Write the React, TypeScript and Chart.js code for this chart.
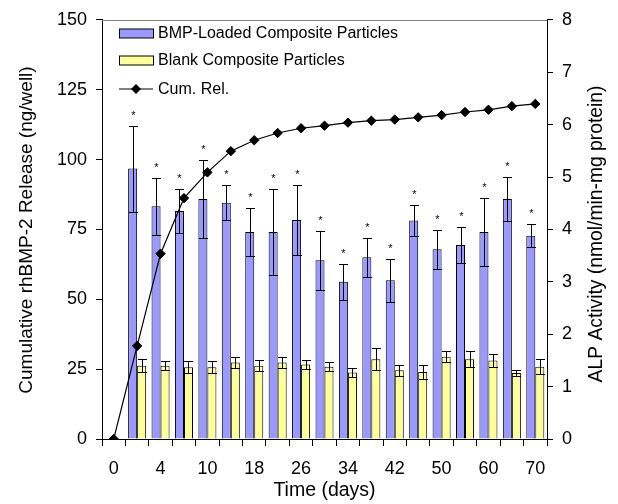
import React, { useEffect, useRef } from 'react';
import { Chart, registerables } from 'chart.js';

Chart.register(...registerables);

// ---- data ----
const timeLabels = ['0', '', '4', '', '10', '', '18', '', '26', '', '34', '', '42', '', '50', '', '60', '', '70'];

// Cumulative rhBMP-2 release (ng/well), left axis
const cumRelease = [0, 33.3, 66.3, 86.2, 95.4, 103, 106.9, 109.5, 111.2, 112.1, 113.2, 113.9, 114.3, 115.1, 115.9, 117, 117.8, 119.1, 119.9];

// ALP activity (nmol/min-mg protein), right axis
const bmpALP = [null, 5.16, 4.44, 4.35, 4.58, 4.51, 3.95, 3.95, 4.18, 3.41, 3.0, 3.47, 3.03, 4.17, 3.62, 3.7, 3.95, 4.58, 3.88];
const bmpErr = [null, 0.82, 0.54, 0.42, 0.74, 0.33, 0.45, 0.82, 0.67, 0.56, 0.34, 0.37, 0.41, 0.3, 0.37, 0.35, 0.64, 0.42, 0.22];
const blankALP = [null, 1.4, 1.4, 1.37, 1.37, 1.46, 1.4, 1.46, 1.42, 1.38, 1.27, 1.52, 1.31, 1.28, 1.57, 1.52, 1.5, 1.26, 1.38];
const blankErr = [null, 0.12, 0.09, 0.11, 0.11, 0.11, 0.1, 0.11, 0.09, 0.08, 0.09, 0.21, 0.1, 0.13, 0.1, 0.15, 0.13, 0.05, 0.14];
const sigMarks = ['', '*', '*', '*', '*', '*', '*', '*', '*', '*', '*', '*', '*', '*', '*', '*', '*', '*', '*'];

const seriesNames = ['BMP-Loaded Composite Particles', 'Blank Composite Particles', 'Cum. Rel.'];
const leftTitle = 'Cumulative rhBMP-2 Release (ng/well)';
const rightTitle = 'ALP Activity (nmol/min-mg protein)';
const xTitle = 'Time (days)';

const BLUE = '#9999ff';
const YELLOW = '#ffff99';
const FONT = "'Liberation Sans', Arial, Helvetica, sans-serif";

const errorBarPlugin = {
  id: 'errorBars',
  afterDatasetDraw(chart: any, args: any) {
    const ds: any = chart.data.datasets[args.index];
    if (!ds.errors) return;
    const ctx = chart.ctx;
    const yScale = chart.scales[ds.yAxisID];
    ctx.save();
    ctx.strokeStyle = '#000';
    ctx.lineWidth = 1;
    args.meta.data.forEach((bar: any, i: number) => {
      const v = ds.data[i];
      const e = ds.errors[i];
      if (v == null || e == null) return;
      const x = Math.round(bar.x) + 0.5;
      const hw = bar.width / 2;
      const yT = Math.round(yScale.getPixelForValue(v + e)) + 0.5;
      const yB = Math.round(yScale.getPixelForValue(v - e)) + 0.5;
      ctx.beginPath();
      ctx.moveTo(x, yT);
      ctx.lineTo(x, yB);
      ctx.moveTo(x - hw, yT);
      ctx.lineTo(x + hw, yT);
      ctx.moveTo(x - hw, yB);
      ctx.lineTo(x + hw, yB);
      ctx.stroke();
      if (ds.marks && ds.marks[i]) {
        ctx.fillStyle = '#000';
        ctx.font = `11px ${FONT}`;
        ctx.textAlign = 'center';
        ctx.textBaseline = 'middle';
        ctx.fillText(ds.marks[i], x, yT - 11);
      }
    });
    ctx.restore();
  },
};

const framePlugin = {
  id: 'frameAndLegend',
  afterDraw(chart: any) {
    const ctx = chart.ctx;
    const a = chart.chartArea;
    ctx.save();
    ctx.strokeStyle = '#808080';
    ctx.lineWidth = 1;
    ctx.beginPath();
    ctx.moveTo(a.left, Math.round(a.top) + 0.5);
    ctx.lineTo(a.right, Math.round(a.top) + 0.5);
    ctx.stroke();

    // vertical axis titles (both read bottom-to-top)
    ctx.fillStyle = '#000';
    ctx.textAlign = 'center';
    ctx.textBaseline = 'alphabetic';
    ctx.save();
    ctx.font = `19px ${FONT}`;
    ctx.translate(32, 230);
    ctx.rotate(-Math.PI / 2);
    ctx.fillText(leftTitle, 0, 0);
    ctx.restore();
    ctx.save();
    ctx.font = `19.3px ${FONT}`;
    ctx.translate(602, 234);
    ctx.rotate(-Math.PI / 2);
    ctx.fillText(rightTitle, 0, 0);
    ctx.restore();

    // legend
    const lx = 119;
    const lw = 34;
    const rows = [33.5, 60.5, 89];
    ctx.font = `16px ${FONT}`;
    ctx.textAlign = 'left';
    ctx.textBaseline = 'middle';
    ctx.lineWidth = 1;
    ctx.strokeStyle = '#000';
    [BLUE, YELLOW].forEach((c, k) => {
      const y = rows[k];
      ctx.fillStyle = c;
      ctx.fillRect(lx + 0.5, y - 4.5, lw, 9);
      ctx.strokeRect(lx + 0.5, y - 4.5, lw, 9);
    });
    ctx.beginPath();
    ctx.lineWidth = 1.2;
    ctx.moveTo(lx, rows[2]);
    ctx.lineTo(lx + lw, rows[2]);
    ctx.stroke();
    ctx.fillStyle = '#000';
    const cx = lx + lw / 2;
    const r = 5;
    ctx.beginPath();
    ctx.moveTo(cx - r, rows[2]);
    ctx.lineTo(cx, rows[2] - r);
    ctx.lineTo(cx + r, rows[2]);
    ctx.lineTo(cx, rows[2] + r);
    ctx.closePath();
    ctx.fill();
    seriesNames.forEach((t, k) => {
      ctx.fillText(t, 158, rows[k] + 0.5);
    });
    ctx.restore();
  },
};

export default function App() {
  const ref = useRef<HTMLCanvasElement>(null);
  useEffect(() => {
    if (!ref.current) return;
    Chart.defaults.font.family = FONT;
    Chart.defaults.color = '#000';
    const chart = new Chart(ref.current, {
      type: 'bar',
      data: {
        labels: timeLabels,
        datasets: [
          {
            type: 'line',
            label: seriesNames[2],
            data: cumRelease,
            yAxisID: 'y',
            borderColor: '#000',
            borderWidth: 1.2,
            pointStyle: 'rectRot',
            pointRadius: 4.7,
            pointBackgroundColor: '#000',
            pointBorderColor: '#000',
            pointBorderWidth: 1,
            tension: 0,
            order: 0,
          } as any,
          {
            type: 'bar',
            label: seriesNames[0],
            data: bmpALP,
            yAxisID: 'y1',
            backgroundColor: BLUE,
            borderColor: '#000',
            borderWidth: 1,
            categoryPercentage: 0.77,
            barPercentage: 1,
            order: 1,
            errors: bmpErr,
            marks: sigMarks,
          } as any,
          {
            type: 'bar',
            label: seriesNames[1],
            data: blankALP,
            yAxisID: 'y1',
            backgroundColor: YELLOW,
            borderColor: '#000',
            borderWidth: 1,
            categoryPercentage: 0.77,
            barPercentage: 1,
            order: 1,
            errors: blankErr,
          } as any,
        ],
      },
      options: {
        responsive: false,
        animation: false,
        layout: { padding: { top: 15, left: 0, right: 0, bottom: 0 } },
        plugins: { legend: { display: false }, tooltip: { enabled: false } },
        scales: {
          x: {
            offset: true,
            grid: { offset: true, drawOnChartArea: false, drawTicks: true, tickLength: 7, color: '#000' },
            border: { display: true, color: '#000' },
            ticks: { autoSkip: false, maxRotation: 0, padding: 12, font: { size: 18 }, color: '#000' },
            title: { display: true, text: xTitle, font: { size: 19.5 }, padding: { top: 0, bottom: 2 }, color: '#000' },
            afterFit: (s: any) => {
              s.height = 65;
            },
          },
          y: {
            position: 'left',
            min: 0,
            max: 150,
            ticks: { stepSize: 25, padding: 9, font: { size: 18 }, color: '#000' },
            grid: { drawOnChartArea: false, drawTicks: true, tickLength: 6, color: '#000' },
            border: { display: true, color: '#000' },
            title: { display: false },
            afterFit: (s: any) => {
              s.width = 102;
            },
          },
          y1: {
            position: 'right',
            min: 0,
            max: 8,
            ticks: { stepSize: 1, padding: 9, font: { size: 18 }, color: '#000' },
            grid: { drawOnChartArea: false, drawTicks: true, tickLength: 6, color: '#000' },
            border: { display: true, color: '#000' },
            title: { display: false },
            afterFit: (s: any) => {
              s.width = 71;
            },
          },
        },
      },
      plugins: [errorBarPlugin, framePlugin],
    });
    return () => chart.destroy();
  }, []);
  return (
    <div style={{ position: 'absolute', left: 0, top: 0, width: 618, height: 504, background: '#fff' }}>
      <canvas ref={ref} width={618} height={504} />
    </div>
  );
}
